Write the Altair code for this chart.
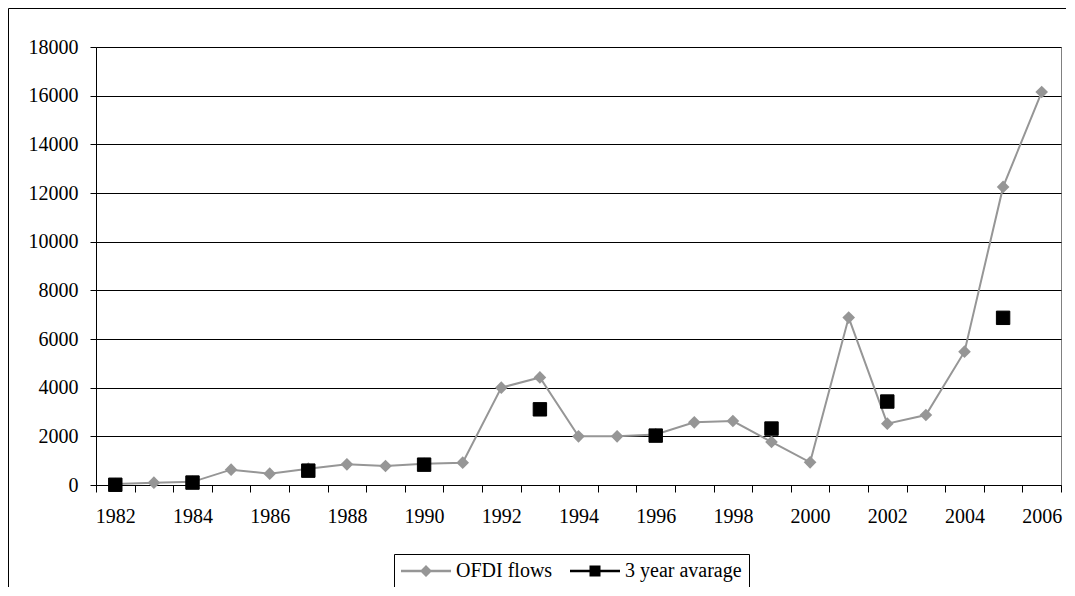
import altair as alt
import pandas as pd

# ---- data ----
years = list(range(1982, 2007))
ofdi = [40, 95, 130, 630, 466, 670, 850, 780, 870, 918, 4000, 4420, 2000, 2000,
        2080, 2575, 2630, 1770, 930, 6880, 2520, 2877, 5480, 12250, 16150]
avg_years = [1982, 1984, 1987, 1990, 1993, 1996, 1999, 2002, 2005]
avg_vals = [10, 100, 590, 836, 3110, 2030, 2320, 3430, 6870]
series_names = ["OFDI flows", "3 year avarage"]
series_colors = ["#969696", "#000000"]
y_ticks = list(range(0, 18001, 2000))
x_label_years = list(range(1982, 2007, 2))

# ---- layout ----
W, H = 965, 438
PAD_L, PAD_T, PAD_R, PAD_B = 88, 39, 5, 102
FONT = "Liberation Serif, Times New Roman, Times, DejaVu Serif, serif"

df_ofdi = pd.DataFrame({"year": years, "value": ofdi})
df_avg = pd.DataFrame({"year": avg_years, "value": avg_vals})
df_leg = pd.DataFrame({"series": series_names, "year": [1990, 1990], "value": [0, 0]})
df_frame = pd.DataFrame({"k": [0]})

band_edges = [y - 0.5 for y in years] + [years[-1] + 0.5]
label_list = ",".join(str(v) for v in x_label_years)

x_enc = alt.X(
    "year:Q",
    scale=alt.Scale(domain=[years[0] - 0.5, years[-1] + 0.5], nice=False, zero=False),
    axis=alt.Axis(
        title=None, grid=False, values=band_edges,
        labelExpr=f"indexof([{label_list}], datum.value + 0.5) >= 0 ? format(datum.value + 0.5, 'd') : ''",
        labelOffset=W / len(years) / 2, labelOverlap=False, labelFlush=False,
        labelFont=FONT, labelFontSize=20, labelColor="black", labelPadding=14,
        tickColor="black", tickSize=7, tickWidth=1, domainColor="black", domainWidth=1,
    ),
)
y_enc = alt.Y(
    "value:Q",
    scale=alt.Scale(domain=[0, 18000], nice=False),
    axis=alt.Axis(
        title=None, values=y_ticks, format="d", grid=True, gridColor="black", gridWidth=1,
        labelFont=FONT, labelFontSize=20, labelColor="black", labelPadding=12,
        tickColor="black", tickSize=6, domainColor="black", domainWidth=1,
        labelFlush=False, labelOverlap=False,
    ),
)

frame = alt.Chart(df_frame).mark_rect(fill="white", fillOpacity=0, stroke="black", strokeWidth=1).encode(
    x=alt.value(-PAD_L + 0.5), x2=alt.value(W + 300),
    y=alt.value(-PAD_T + 0.5), y2=alt.value(H + 300),
)

line = alt.Chart(df_ofdi).mark_line(color=series_colors[0], strokeWidth=2).encode(x=x_enc, y=y_enc)
pts = alt.Chart(df_ofdi).mark_point(shape="diamond", filled=True, color=series_colors[0],
                                    size=160, opacity=1).encode(x=x_enc, y=y_enc)
avgpts = alt.Chart(df_avg).mark_point(shape="square", filled=True, color=series_colors[1],
                                      stroke="black", strokeWidth=1, size=180, opacity=1).encode(x=x_enc, y=y_enc)

diamond_path = "M-1,-0.12L4,-0.12L4,0.12L-1,0.12Z M1.5,-0.6L2.1,0L1.5,0.6L0.9,0Z"
square_path = "M-1,-0.12L4,-0.12L4,0.12L-1,0.12Z M0.95,-0.55L2.05,-0.55L2.05,0.55L0.95,0.55Z"

leg_props = dict(
    title=None, orient="none", legendX=298, legendY=507, direction="horizontal",
    symbolSize=400, labelOffset=35, columnPadding=17, padding=7,
    strokeColor="black", fillColor="white", labelFont=FONT, labelFontSize=20,
    labelColor="black", labelLimit=400, symbolStrokeWidth=0, symbolOpacity=1,
)
legend_layer = alt.Chart(df_leg).transform_filter("false").mark_point(filled=True, opacity=1).encode(
    x=x_enc, y=y_enc,
    color=alt.Color("series:N", scale=alt.Scale(domain=series_names, range=series_colors),
                    legend=alt.Legend(**leg_props)),
    shape=alt.Shape("series:N", scale=alt.Scale(domain=series_names, range=[diamond_path, square_path]),
                    legend=alt.Legend(**leg_props)),
)

chart = alt.layer(frame, line, pts, avgpts, legend_layer).properties(
    width=W, height=H,
    padding={"left": PAD_L, "top": PAD_T, "right": PAD_R, "bottom": PAD_B},
    autosize=alt.AutoSizeParams(type="none"),
).configure(background="white", font=FONT).configure_view(stroke="#808080", strokeWidth=1)

chart.save("out.html", embed_options={"renderer": "svg", "actions": False})
